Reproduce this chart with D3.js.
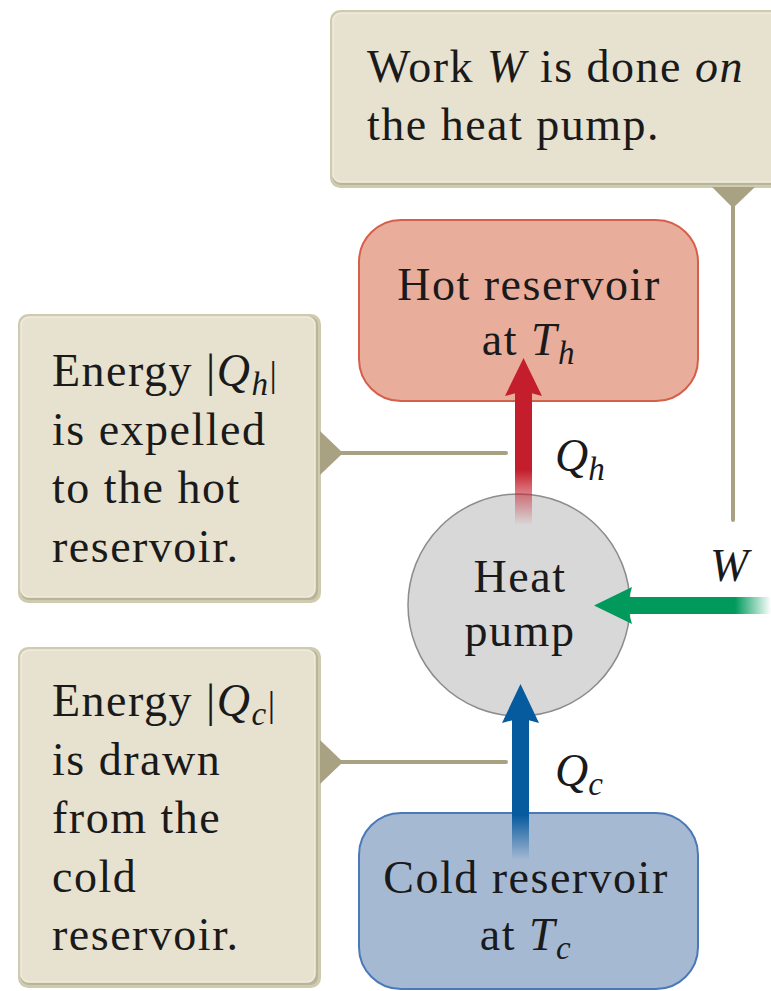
<!DOCTYPE html>
<html>
<head>
<meta charset="utf-8">
<script src="https://cdn.jsdelivr.net/npm/d3@7"></script>
<style>
  html, body { margin: 0; padding: 0; background: #fff; }
</style>
</head>
<body>
<div id="container"></div>
<script>
// text content of the diagram
const workLines = [[["Work "], ["W", "i"], [" is done "], ["on", "i"]], [["the heat pump."]]];
const hotLines = [[["Energy |"], ["Q", "i"], ["h", "sub"], ["|", "up"]], [["is expelled"]], [["to the hot"]], [["reservoir."]]];
const coldLines = [[["Energy |"], ["Q", "i"], ["c", "sub"], ["|", "up"]], [["is drawn"]], [["from the"]], [["cold"]], [["reservoir."]]];
const hotRes = [[["Hot reservoir"]], [["at "], ["T", "i"], ["h", "sub"]]];
const coldRes = [[["Cold reservoir"]], [["at "], ["T", "i"], ["c", "sub"]]];
const pumpLines = [[["Heat"]], [["pump"]]];
const flowLabels = [["Q", "h"], ["Q", "c"], ["W", ""]];

const fs = 46;
const spacing = 1.5;
const serifFont = "'Liberation Serif', 'Times New Roman', serif";

const svg = d3.select("#container").append("svg")
  .attr("width", 771).attr("height", 991);
const defs = svg.append("defs");
const marks = svg.append("g");
const labels = svg.append("g");

let grad = (id, x1, y1, x2, y2, color) => {
  let g = defs.append("linearGradient").attr("id", id)
    .attr("gradientUnits", "userSpaceOnUse")
    .attr("x1", x1).attr("y1", y1).attr("x2", x2).attr("y2", y2);
  g.append("stop").attr("offset", 0).attr("stop-color", color).attr("stop-opacity", 1);
  g.append("stop").attr("offset", 1).attr("stop-color", color).attr("stop-opacity", 0);
};

let writeLines = (lines, x, y0, dy, anchor) => {
  lines.forEach((line, i) => {
    let t = labels.append("text").attr("x", x).attr("y", y0 + i * dy)
      .style("font-family", serifFont).attr("fill", "#1a1a1a")
      .attr("letter-spacing", spacing)
      .attr("font-size", fs).attr("text-anchor", anchor || "start");
    line.forEach(p => {
      let s = t.append("tspan").text(p[0]);
      if (p[1] == "i") s.attr("font-style", "italic");
      if (p[1] == "sub") s.attr("font-style", "italic").attr("font-size", fs * 0.72).attr("dy", 9);
      if (p[1] == "up") s.attr("dy", -9).attr("font-size", fs * 0.8);
    });
  });
};

// beige callout box
let callout = (x, y, w, h) => {
  let g = marks.append("g");
  g.append("rect").attr("x", x).attr("y", y).attr("width", w).attr("height", h)
    .attr("rx", 10).attr("fill", "#cfcbb1");
  g.append("rect").attr("x", x + 3).attr("y", y + 3).attr("width", w - 6).attr("height", h - 6)
    .attr("rx", 8).attr("fill", "#b9b597");
  g.append("rect").attr("x", x + 3).attr("y", y + 3).attr("width", w - 9).attr("height", h - 9)
    .attr("rx", 8).attr("fill", "#e7e1cf").attr("stroke", "#f1ede0").attr("stroke-width", 1.5);
};

const lineCol = "#a8a283";

// top box and its pointer
callout(330, 10, 460, 178);
marks.append("path").attr("d", d3.line()([[712, 187], [755, 187], [733, 208]])).attr("fill", lineCol);
marks.append("line").attr("x1", 733).attr("x2", 733).attr("y1", 200).attr("y2", 520)
  .attr("stroke", lineCol).attr("stroke-width", 4).attr("stroke-linecap", "round");

// left boxes and pointers
callout(18, 314, 303, 289);
callout(18, 647, 303, 341);
[453, 762].forEach(y => {
  marks.append("path").attr("d", d3.line()([[320, y - 22], [320, y + 22], [343, y]])).attr("fill", lineCol);
  marks.append("line").attr("x1", 335).attr("x2", 506).attr("y1", y).attr("y2", y)
    .attr("stroke", lineCol).attr("stroke-width", 4).attr("stroke-linecap", "round");
});

// reservoirs
marks.append("rect").attr("x", 359).attr("y", 220).attr("width", 339).attr("height", 181)
  .attr("rx", 42).attr("fill", "#e9ae9b").attr("stroke", "#d4604b").attr("stroke-width", 2);
marks.append("rect").attr("x", 359).attr("y", 813).attr("width", 339).attr("height", 176)
  .attr("rx", 42).attr("fill", "#a6b9d3").attr("stroke", "#4b79b8").attr("stroke-width", 2);

// heat pump
marks.append("circle").attr("cx", 519).attr("cy", 605).attr("r", 111)
  .attr("fill", "#d8d8d8").attr("stroke", "#8c8c8c").attr("stroke-width", 1.5);

// arrows
grad("gRed", 0, 470, 0, 525, "#c41e2c");
grad("gBlue", 0, 815, 0, 860, "#065a9e");
grad("gGreen", 735, 0, 771, 0, "#019a5c");

marks.append("rect").attr("x", 515).attr("y", 390).attr("width", 17).attr("height", 135).attr("fill", "url(#gRed)");
marks.append("path").attr("d", d3.line()([[505, 396], [523.5, 358], [542, 396], [523.5, 391]])).attr("fill", "#c41e2c");
marks.append("rect").attr("x", 512).attr("y", 715).attr("width", 17).attr("height", 145).attr("fill", "url(#gBlue)");
marks.append("path").attr("d", d3.line()([[502, 723], [520.5, 684], [539, 723], [520.5, 718]])).attr("fill", "#065a9e");
marks.append("rect").attr("x", 625).attr("y", 597).attr("width", 146).attr("height", 17).attr("fill", "url(#gGreen)");
marks.append("path").attr("d", d3.line()([[632, 587], [594, 605.5], [632, 624], [627, 605.5]])).attr("fill", "#019a5c");

// all text
writeLines(workLines, 367, 82, 58);
writeLines(hotLines, 52, 386, 58.5);
writeLines(coldLines, 52, 716, 58.5);
writeLines(hotRes, 529, 300, 55, "middle");
writeLines(coldRes, 526, 893, 57, "middle");
writeLines(pumpLines, 520, 592, 54, "middle");

[[555, 471], [555, 786], [710, 581]].forEach((p, i) => {
  let t = labels.append("text").attr("x", p[0]).attr("y", p[1]).attr("font-size", fs)
    .style("font-family", serifFont).attr("font-style", "italic").attr("fill", "#1a1a1a");
  t.append("tspan").text(flowLabels[i][0]);
  if (flowLabels[i][1]) t.append("tspan").text(flowLabels[i][1]).attr("font-size", fs * 0.72).attr("dy", 9);
});
</script>
</body>
</html>
